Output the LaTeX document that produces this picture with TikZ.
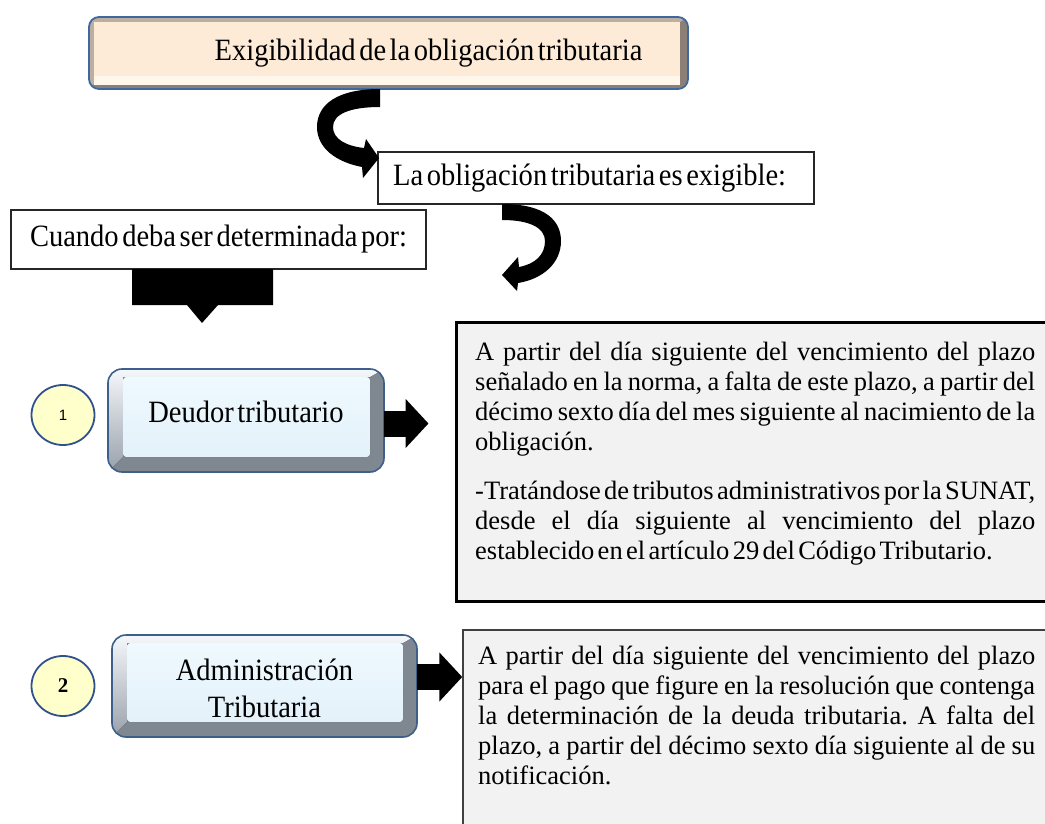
\documentclass[tikz,border=0pt]{standalone}
\usepackage{fontspec}
\setmainfont{Liberation Serif}[WordSpace=0.5]
\newfontfamily\headfam{Liberation Serif}[FakeStretch=0.92, WordSpace=0.5]
\newfontfamily\numsans{Liberation Sans}
\usetikzlibrary{shapes.geometric,arrows.meta}
\frenchspacing
\definecolor{boxedge}{HTML}{3E5F8A}
\definecolor{bevdark}{HTML}{7F8791}
\definecolor{bevtop}{HTML}{F5F8FB}
\definecolor{bevleft}{HTML}{98A0AA}
\definecolor{facetop}{HTML}{EFF9FE}
\definecolor{facebot}{HTML}{E3F1FA}
\definecolor{peach}{HTML}{FDEBD8}
\definecolor{cream}{HTML}{FFF6EC}
\definecolor{tdark}{HTML}{8C8076}
\definecolor{tlight}{HTML}{BCAFA2}
\definecolor{tborder}{HTML}{4068A0}
\definecolor{circfill}{HTML}{FFFFCC}
\definecolor{circedge}{HTML}{2F528F}
\definecolor{notegray}{HTML}{F2F2F2}
\newcommand\headfont{\headfam\fontsize{31pt}{37pt}\selectfont}
\newcommand\bodyfont{\fontsize{26.5pt}{30pt}\selectfont}
% bevelled rounded box: outer x1 y1 x2 y2, inner face x1 y1 x2 y2
\newcommand\bevbox[8]{%
  \begin{scope}
    \clip[rounded corners=14pt] (#1,#2) rectangle (#3,#4);
    \fill[bevdark] (#1,#2) rectangle (#3,#4);
    \fill[top color=bevtop, bottom color=bevleft]
      (#1,#2) -- (#3,#2) -- (#7,#6) -- (#5,#6) -- (#5,#8) -- (#1,#4) -- cycle;
  \end{scope}
  \fill[top color=facetop, bottom color=facebot, rounded corners=3pt] (#5,#6) rectangle (#7,#8);
  \draw[boxedge, line width=1.6pt, rounded corners=14pt] (#1,#2) rectangle (#3,#4);
}
\tikzset{
  plainbox/.style={draw=black!85, line width=1.3pt, fill=white, inner sep=0pt},
  notebox/.style={fill=notegray, inner sep=0pt},
  numcirc/.style={ellipse, draw=circedge, line width=1.8pt, fill=circfill,
                  minimum width=63pt, minimum height=60pt, inner sep=0pt},
  blockarrow/.style={line width=26pt, black, -{Triangle[width=48pt,length=23pt]}},
  anchorbox/.style={inner sep=0pt}
}
\begin{document}
\begin{tikzpicture}[x=1pt,y=-1pt]
\useasboundingbox (0,0) rectangle (1045,824);

% ---------- title box ----------
\begin{scope}
  \clip[rounded corners=10pt] (89,17) rectangle (688,89);
  \fill[tdark] (89,17) rectangle (688,89);
  \fill[tlight] (89,17) -- (688,17) -- (680,22) -- (94,22) -- (94,84) -- (89,89) -- cycle;
  \fill[peach] (94,22) rectangle (680,76);
  \fill[cream] (94,76) rectangle (680,85);
\end{scope}
\draw[tborder, line width=1.8pt, rounded corners=10pt] (89,17) rectangle (688,89);
\node[anchorbox, minimum width=599pt, minimum height=72pt] (title) at (388.5,53) {};
\node[font=\headfont, inner sep=0pt] (titletxt) at (428.5,53) {Exigibilidad de la obligación tributaria};

% ---------- second and third boxes ----------
\node[plainbox, minimum width=436pt, minimum height=52pt] (lob) at (596,178) {};
\node[font=\headfont, inner sep=0pt, anchor=west] (lobtxt) at (393,178) {La obligación tributaria es exigible:};
\node[plainbox, minimum width=415pt, minimum height=59pt, font=\headfont] (cuando) at (218.5,239.5)
      {Cuando deba ser determinada por:};

% ---------- curved arrows ----------
\fill[black] (380,89) .. controls (338,89) and (317,104) .. (317,127)
  .. controls (317,148) and (336,162) .. (362,167) -- (363,178) -- (379,158) -- (366,139) -- (364,148)
  .. controls (346,146) and (333,139) .. (333,127) .. controls (333,114) and (350,107) .. (380,107) -- cycle;
\fill[black] (502,204) .. controls (546,204) and (561,221) .. (561,241)
  .. controls (561,263) and (543,279) .. (518,283) -- (517,291) -- (502,275) -- (518,257) -- (519,267)
  .. controls (535,264) and (545,255) .. (545,241) .. controls (545,228) and (530,220) .. (502,220) -- cycle;

% ---------- down block arrow ----------
\fill[black] (132,269) -- (273,269) -- (273,305) -- (218,305) -- (202,323) -- (187,305) -- (132,305) -- cycle;

% ---------- note boxes ----------
\node[notebox, draw=black, line width=3pt, minimum width=594pt, minimum height=279pt] (t1) at (753,461.5) {};
\node[notebox, draw=black!75, line width=1.5pt, minimum width=587pt, minimum height=210pt] (t2) at (756.5,735) {};

\node[anchor=base west, inner sep=0pt, font=\bodyfont] (t1txt) at (475,360) {\parbox[t]{560pt}{%
\makebox[560pt][s]{A partir del día siguiente del vencimiento del plazo}\\
\makebox[560pt][s]{señalado en la norma, a falta de este plazo, a partir del}\\
\makebox[560pt][s]{décimo sexto día del mes siguiente al nacimiento de la}\\
obligación.\\[19pt]
\makebox[560pt][s]{-Tratándose de tributos administrativos por la SUNAT,}\\
\makebox[560pt][s]{desde el día siguiente al vencimiento del plazo}\\
establecido en el artículo 29 del Código Tributario.}};

\node[anchor=base west, inner sep=0pt, font=\bodyfont] (t2txt) at (478,664) {\parbox[t]{557pt}{%
\makebox[557pt][s]{A partir del día siguiente del vencimiento del plazo}\\
\makebox[557pt][s]{para el pago que figure en la resolución que contenga}\\
\makebox[557pt][s]{la determinación de la deuda tributaria. A falta del}\\
\makebox[557pt][s]{plazo, a partir del décimo sexto día siguiente al de su}\\
notificación.}};

% ---------- bevel boxes ----------
\bevbox{108}{369}{384}{472}{123}{377}{370}{457}
\node[anchorbox, minimum width=276pt, minimum height=103pt] (deudor) at (246,420.5) {};
\node[font=\headfont, inner sep=0pt] (deudortxt) at (246,412) {Deudor tributario};

\bevbox{112}{635}{417}{737}{127}{643}{403}{722}
\node[anchorbox, minimum width=305pt, minimum height=102pt] (admin) at (264.5,686) {};
\node[font=\headfont, align=center, inner sep=0pt] (admintxt) at (264.5,688)
  {Administración\\Tributaria};

% ---------- number circles ----------
\node[numcirc, font=\numsans\fontsize{15pt}{17pt}\selectfont] (c1) at (63,415) {1};
\node[numcirc, font=\bfseries\fontsize{21pt}{24pt}\selectfont] (c2) at (63,686) {2};

% ---------- straight block arrows ----------
\draw[blockarrow] ([yshift=-3pt]deudor.east) -- ([xshift=-26pt,yshift=-3pt]deudor.east -| t1.west);
\coordinate (a2s) at ([yshift=9pt]admin.east);
\draw[blockarrow] (a2s) -- (a2s -| t2.west);
\end{tikzpicture}
\end{document}
